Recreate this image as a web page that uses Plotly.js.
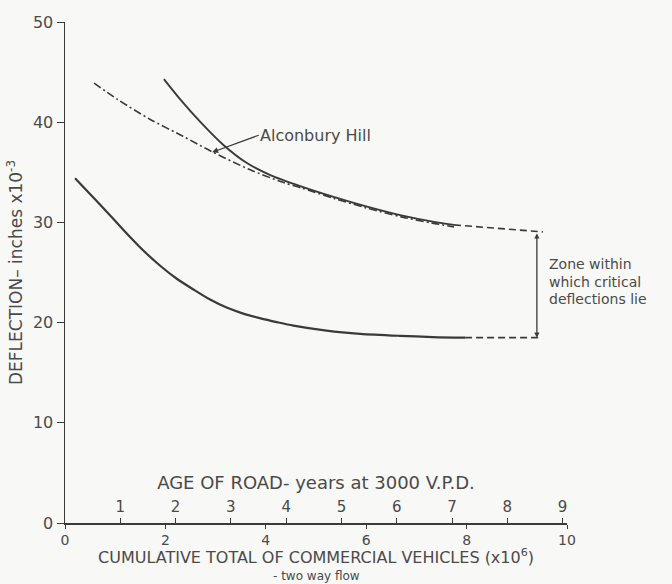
<!DOCTYPE html>
<html>
<head>
<meta charset="utf-8">
<script src="https://cdn.plot.ly/plotly-3.0.1.min.js"></script>
<style>
html,body{margin:0;padding:0;background:#f8f8f6;}
#chart{width:672px;height:584px;}
</style>
</head>
<body>
<div id="chart"></div>
<script>
// Cumulative total of commercial vehicles (x10^6) and deflection (inches x10^-3)
var lowerCum = [0.2, 0.56, 0.9, 1.23, 1.56, 1.89, 2.22, 2.56, 2.89, 3.22, 3.55, 3.88, 4.22, 4.55, 5.21, 5.88, 6.67, 7.33, 7.97];
var lowerDefl = [34.4, 32.5, 30.7, 28.9, 27.2, 25.7, 24.4, 23.3, 22.3, 21.5, 20.9, 20.45, 20.05, 19.7, 19.2, 18.88, 18.68, 18.56, 18.5];

var upperCum = [1.97, 2.3, 2.7, 3.15, 3.6, 4.1, 4.7, 5.35, 6.0, 6.7, 7.3, 7.75];
var upperDefl = [44.3, 42.25, 40.0, 37.75, 36.0, 34.7, 33.6, 32.55, 31.6, 30.7, 30.1, 29.75];

var alconCum = [0.58, 1.04, 1.69, 2.35, 2.89, 3.69, 4.34, 4.7, 5.35, 6.0, 6.7, 7.3, 7.75];
var alconDefl = [43.9, 42.3, 40.3, 38.6, 37.15, 35.25, 34.0, 33.45, 32.4, 31.45, 30.55, 29.95, 29.55];

var upperExtCum = [7.75, 9.52];
var upperExtDefl = [29.75, 29.05];
var lowerExtCum = [7.97, 9.46];
var lowerExtDefl = [18.5, 18.5];

var zoneCum = 9.40;
var zoneTop = 29.05;
var zoneBottom = 18.5;

var cumTicks = [0, 2, 4, 6, 8, 10];
var deflTicks = [0, 10, 20, 30, 40, 50];
var ageYears = [1, 2, 3, 4, 5, 6, 7, 8, 9];
var ageMax = 9.08;

var zoneLines = ['Zone within', 'which critical', 'deflections lie'];

var ink = '#3a3a3a';
var txt = '#4a4a4a';
var fontFam = 'DejaVu Sans, sans-serif';

var traces = [
  {x: lowerCum, y: lowerDefl, mode: 'lines', line: {color: ink, width: 2.2, shape: 'spline', smoothing: 0.8}, hoverinfo: 'skip'},
  {x: upperCum, y: upperDefl, mode: 'lines', line: {color: ink, width: 1.9, shape: 'spline', smoothing: 0.8}, hoverinfo: 'skip'},
  {x: alconCum, y: alconDefl, mode: 'lines', line: {color: ink, width: 1.6, shape: 'spline', smoothing: 0.8, dash: '8px,3px,2px,3px'}, hoverinfo: 'skip'},
  {x: upperExtCum, y: upperExtDefl, mode: 'lines', line: {color: ink, width: 1.6, dash: '7px,4px'}, hoverinfo: 'skip'},
  {x: lowerExtCum, y: lowerExtDefl, mode: 'lines', line: {color: ink, width: 1.6, dash: '7px,4px'}, hoverinfo: 'skip'},
  {x: [], y: [], xaxis: 'x2', mode: 'lines', hoverinfo: 'skip'}
];

var annotations = [
  {x: 2.93, y: 37.0, xref: 'x', yref: 'y', ax: 3.86, ay: 38.7, axref: 'x', ayref: 'y',
   text: 'Alconbury Hill', xanchor: 'left', showarrow: true, arrowhead: 2, arrowsize: 1, arrowwidth: 1.2,
   arrowcolor: ink, font: {size: 16, color: txt}, borderpad: 0},
  {x: zoneCum, y: zoneBottom, xref: 'x', yref: 'y', ax: zoneCum, ay: zoneTop, axref: 'x', ayref: 'y',
   text: '', showarrow: true, arrowhead: 2, arrowside: 'end+start', arrowsize: 0.8, arrowwidth: 1.3, arrowcolor: ink},
  {x: 0.5, y: -0.067, xref: 'paper', yref: 'paper', text: 'CUMULATIVE TOTAL OF COMMERCIAL VEHICLES (x10<sup>6</sup>)',
   showarrow: false, xanchor: 'center', yanchor: 'middle', font: {size: 16, color: txt}, borderpad: 0},
  {x: 0.5, y: -0.105, xref: 'paper', yref: 'paper', text: '- two way flow', showarrow: false,
   xanchor: 'center', yanchor: 'middle', font: {size: 12, color: txt}, borderpad: 0}
];
var zoneY = [25.8, 24.1, 22.4];
zoneLines.forEach(function (t, i) {
  annotations.push({x: 9.60, y: zoneY[i], xref: 'x', yref: 'y', text: t, xanchor: 'left', yanchor: 'middle',
    align: 'left', showarrow: false, font: {size: 14, color: txt}});
});

var layout = {
  width: 672, height: 584,
  margin: {l: 65, r: 105, t: 22, b: 61},
  paper_bgcolor: '#f8f8f6',
  plot_bgcolor: '#f8f8f6',
  showlegend: false,
  font: {family: fontFam, color: txt, size: 16},
  xaxis: {
    range: [0, 10], tickvals: cumTicks, ticktext: cumTicks.map(String),
    ticks: 'outside', ticklen: 4, tickwidth: 1, tickcolor: ink,
    showline: true, linecolor: ink, linewidth: 1.5, showgrid: false, zeroline: false,
    tickfont: {size: 14, color: txt}
  },
  xaxis2: {
    overlaying: 'x', anchor: 'free', position: 0, side: 'top',
    range: [0, ageMax], tickvals: ageYears, ticktext: ageYears.map(String),
    ticks: 'outside', ticklen: 5, tickwidth: 1, tickcolor: ink,
    showline: false, showgrid: false, zeroline: false,
    tickfont: {size: 15, color: txt},
    title: {text: 'AGE OF ROAD- years at 3000 V.P.D.', font: {size: 18, color: txt}, standoff: 2}
  },
  yaxis: {
    range: [0, 50], tickvals: deflTicks, ticktext: deflTicks.map(String),
    ticks: 'outside', ticklen: 7, tickwidth: 1, tickcolor: ink,
    showline: true, linecolor: ink, linewidth: 1.5, showgrid: false, zeroline: false,
    tickfont: {size: 16, color: txt},
    title: {text: 'DEFLECTION– inches x10<sup>-3</sup>', font: {size: 17, color: txt}, standoff: 6}
  },
  annotations: annotations
};

Plotly.newPlot('chart', traces, layout, {displayModeBar: false, staticPlot: true});
</script>
</body>
</html>
